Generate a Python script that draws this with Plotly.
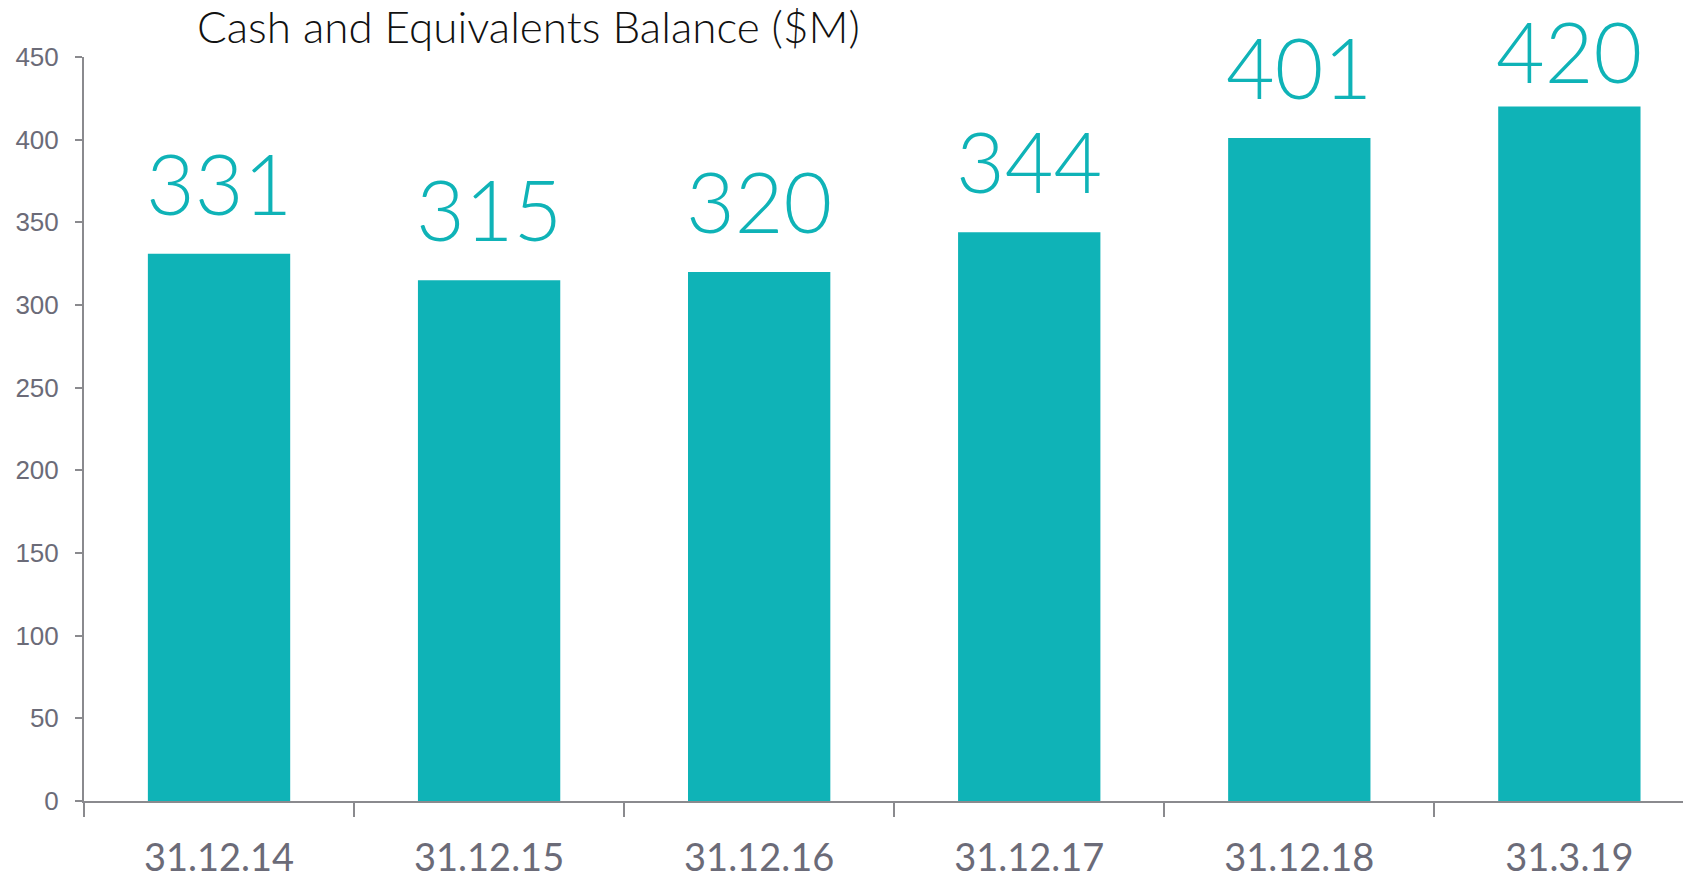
import plotly.graph_objects as go

categories = ["31.12.14", "31.12.15", "31.12.16", "31.12.17", "31.12.18", "31.3.19"]
values = [331, 315, 320, 344, 401, 420]
y_ticks = [0, 50, 100, 150, 200, 250, 300, 350, 400, 450]

TEAL = "#0FB3B7"
GREY_AXIS = "#8A8A8E"
GREY_TEXT = "#6B6B78"

W, H = 1691, 877
L, R, T, B = 76, 0, 49, 84
Y_MAX = 450
plot_h = H - T - B

fig = go.Figure()
fig.add_trace(go.Bar(
    x=categories, y=values, marker_color=TEAL, width=0.527,
    marker_line_width=0, hoverinfo="skip",
))

for c, v in zip(categories, values):
    bar_top_px = T + (Y_MAX - v) / Y_MAX * plot_h
    shift = max(2, min(19, bar_top_px - 95))
    fig.add_annotation(
        x=c, y=v, text=str(v), showarrow=False, yanchor="bottom",
        yshift=shift, font=dict(family="Lato", size=84, color=TEAL, weight=300),
    )

fig.update_layout(
    width=W, height=H,
    margin=dict(l=L, r=R, t=T, b=B),
    plot_bgcolor="white", paper_bgcolor="white",
    showlegend=False,
    title=dict(
        text="Cash and Equivalents Balance ($M)",
        font=dict(family="Lato", size=44, color="#111111", weight=300),
        xref="paper", x=(189 - L) / (W - L - R), xanchor="left",
        yref="container", y=1 - 20 / H, yanchor="middle",
    ),
)
fig.update_xaxes(
    type="category", range=[-0.5, 5.48],
    showline=True, linecolor=GREY_AXIS, linewidth=2,
    ticks="outside", tickson="boundaries", ticklen=14, tickwidth=2, tickcolor=GREY_AXIS,
    tickfont=dict(family="Lato", size=38, color=GREY_TEXT),
    ticklabelstandoff=22,
    showgrid=False, zeroline=False,
)
fig.update_yaxes(
    range=[0, Y_MAX], tickvals=y_ticks,
    showline=True, linecolor=GREY_AXIS, linewidth=2,
    ticks="outside", ticklen=7, tickwidth=2, tickcolor=GREY_AXIS,
    tickfont=dict(family="Liberation Sans", size=26, color=GREY_TEXT),
    ticklabelstandoff=11,
    showgrid=False, zeroline=False,
)

fig.write_html("out.html")
